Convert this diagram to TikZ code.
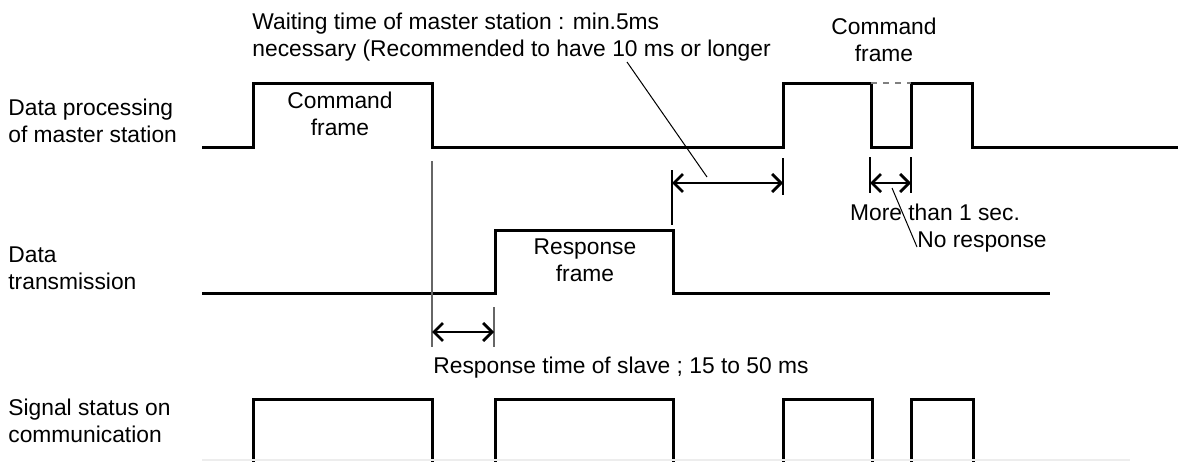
\documentclass[tikz,border=0pt]{standalone}
\usepackage{fontspec}
\setmainfont{Liberation Sans}
\usetikzlibrary{arrows.meta}

\begin{document}
\begin{tikzpicture}[x=0.5pt,y=-0.5pt,
  wave/.style={line width=1.5pt,line join=miter},
  tick/.style={line width=0.6pt},
  span/.style={{Straight Barb[length=4.5pt,width=9pt]}-{Straight Barb[length=4.5pt,width=9pt]},line width=1.4pt},
  lbl/.style={anchor=base,align=center,inner sep=0pt,font=\fontsize{11.4pt}{13.5pt}\selectfont}]
\useasboundingbox (0,0) rectangle (1186,461);
\clip (0,0) rectangle (1186,461);
% row labels
\node[lbl,anchor=base west,align=left] (master) at (8,142) {Data processing\\of master station};
\node[lbl,anchor=base west,align=left] (trans) at (8,289) {Data\\transmission};
\node[lbl,anchor=base west,align=left] (signal) at (8,442) {Signal status on\\communication};
% waveforms
\draw[wave] (202,147) -| (253,83) -| (432,147) -| (783,83) -| (871,147) -| (911,83) -| (972,147) -- (1178,147);
\draw[wave] (202,293) -| (495,230) -| (673,293) -- (1050,293);
\draw[wave] (253,470) |- (432,399) -- (432,470);
\draw[wave] (495,470) |- (673,399) -- (673,470);
\draw[wave] (783,470) |- (872,399) -- (872,470);
\draw[wave] (911,470) |- (973,399) -- (973,470);
\draw[black!7,line width=0.6pt] (202,460) -- (1130,460);
\draw[gray,dashed,line width=0.6pt] (871,83) -- (911,83);
% frame texts
\node[lbl] (cmdA) at (340,135) {Command\\frame};
\node[lbl] (resp) at (585,281) {Response\\frame};
\node[lbl] (cmdB) at (884,61) {Command\\frame};
% response time of slave
\coordinate (rA) at (432,332);
\coordinate (rB) at (494,332);
\draw[tick,gray!80!black] (432,161) -- (432,347);
\draw[tick,gray!80!black] (494,307) -- (494,347);
\draw[span] (rA) -- (rB);
\node[lbl,anchor=base west] (resptime) at (433,373) {Response time of slave ; 15 to 50 ms};
% waiting time of master
\coordinate (wA) at (672,183);
\coordinate (wB) at (783,183);
\draw[tick] (672,170) -- (672,225);
\draw[tick] (783,158) -- (783,195);
\draw[span] (wA) -- (wB);
\node[lbl,anchor=base west,align=left] (wait) at (252,56) {Waiting time of master station : min.5ms\\necessary (Recommended to have 10 ms or longer};
\coordinate (wP) at (627,62);
\coordinate (wQ) at (707,177);
\draw[line width=0.5pt] (wP) -- (wQ);
% no response
\coordinate (nA) at (870,183);
\coordinate (nB) at (911,183);
\draw[tick] (870,157) -- (870,193);
\draw[tick] (911,157) -- (911,193);
\draw[span] (nA) -- (nB);
\node[lbl] (more) at (935,220) {More than 1 sec.};
\node[lbl,anchor=base west] (nores) at (917,247) {No response};
\coordinate (nP) at (892,188);
\draw[line width=0.5pt] (nP) -- (nores.base west);
\end{tikzpicture}
\end{document}
